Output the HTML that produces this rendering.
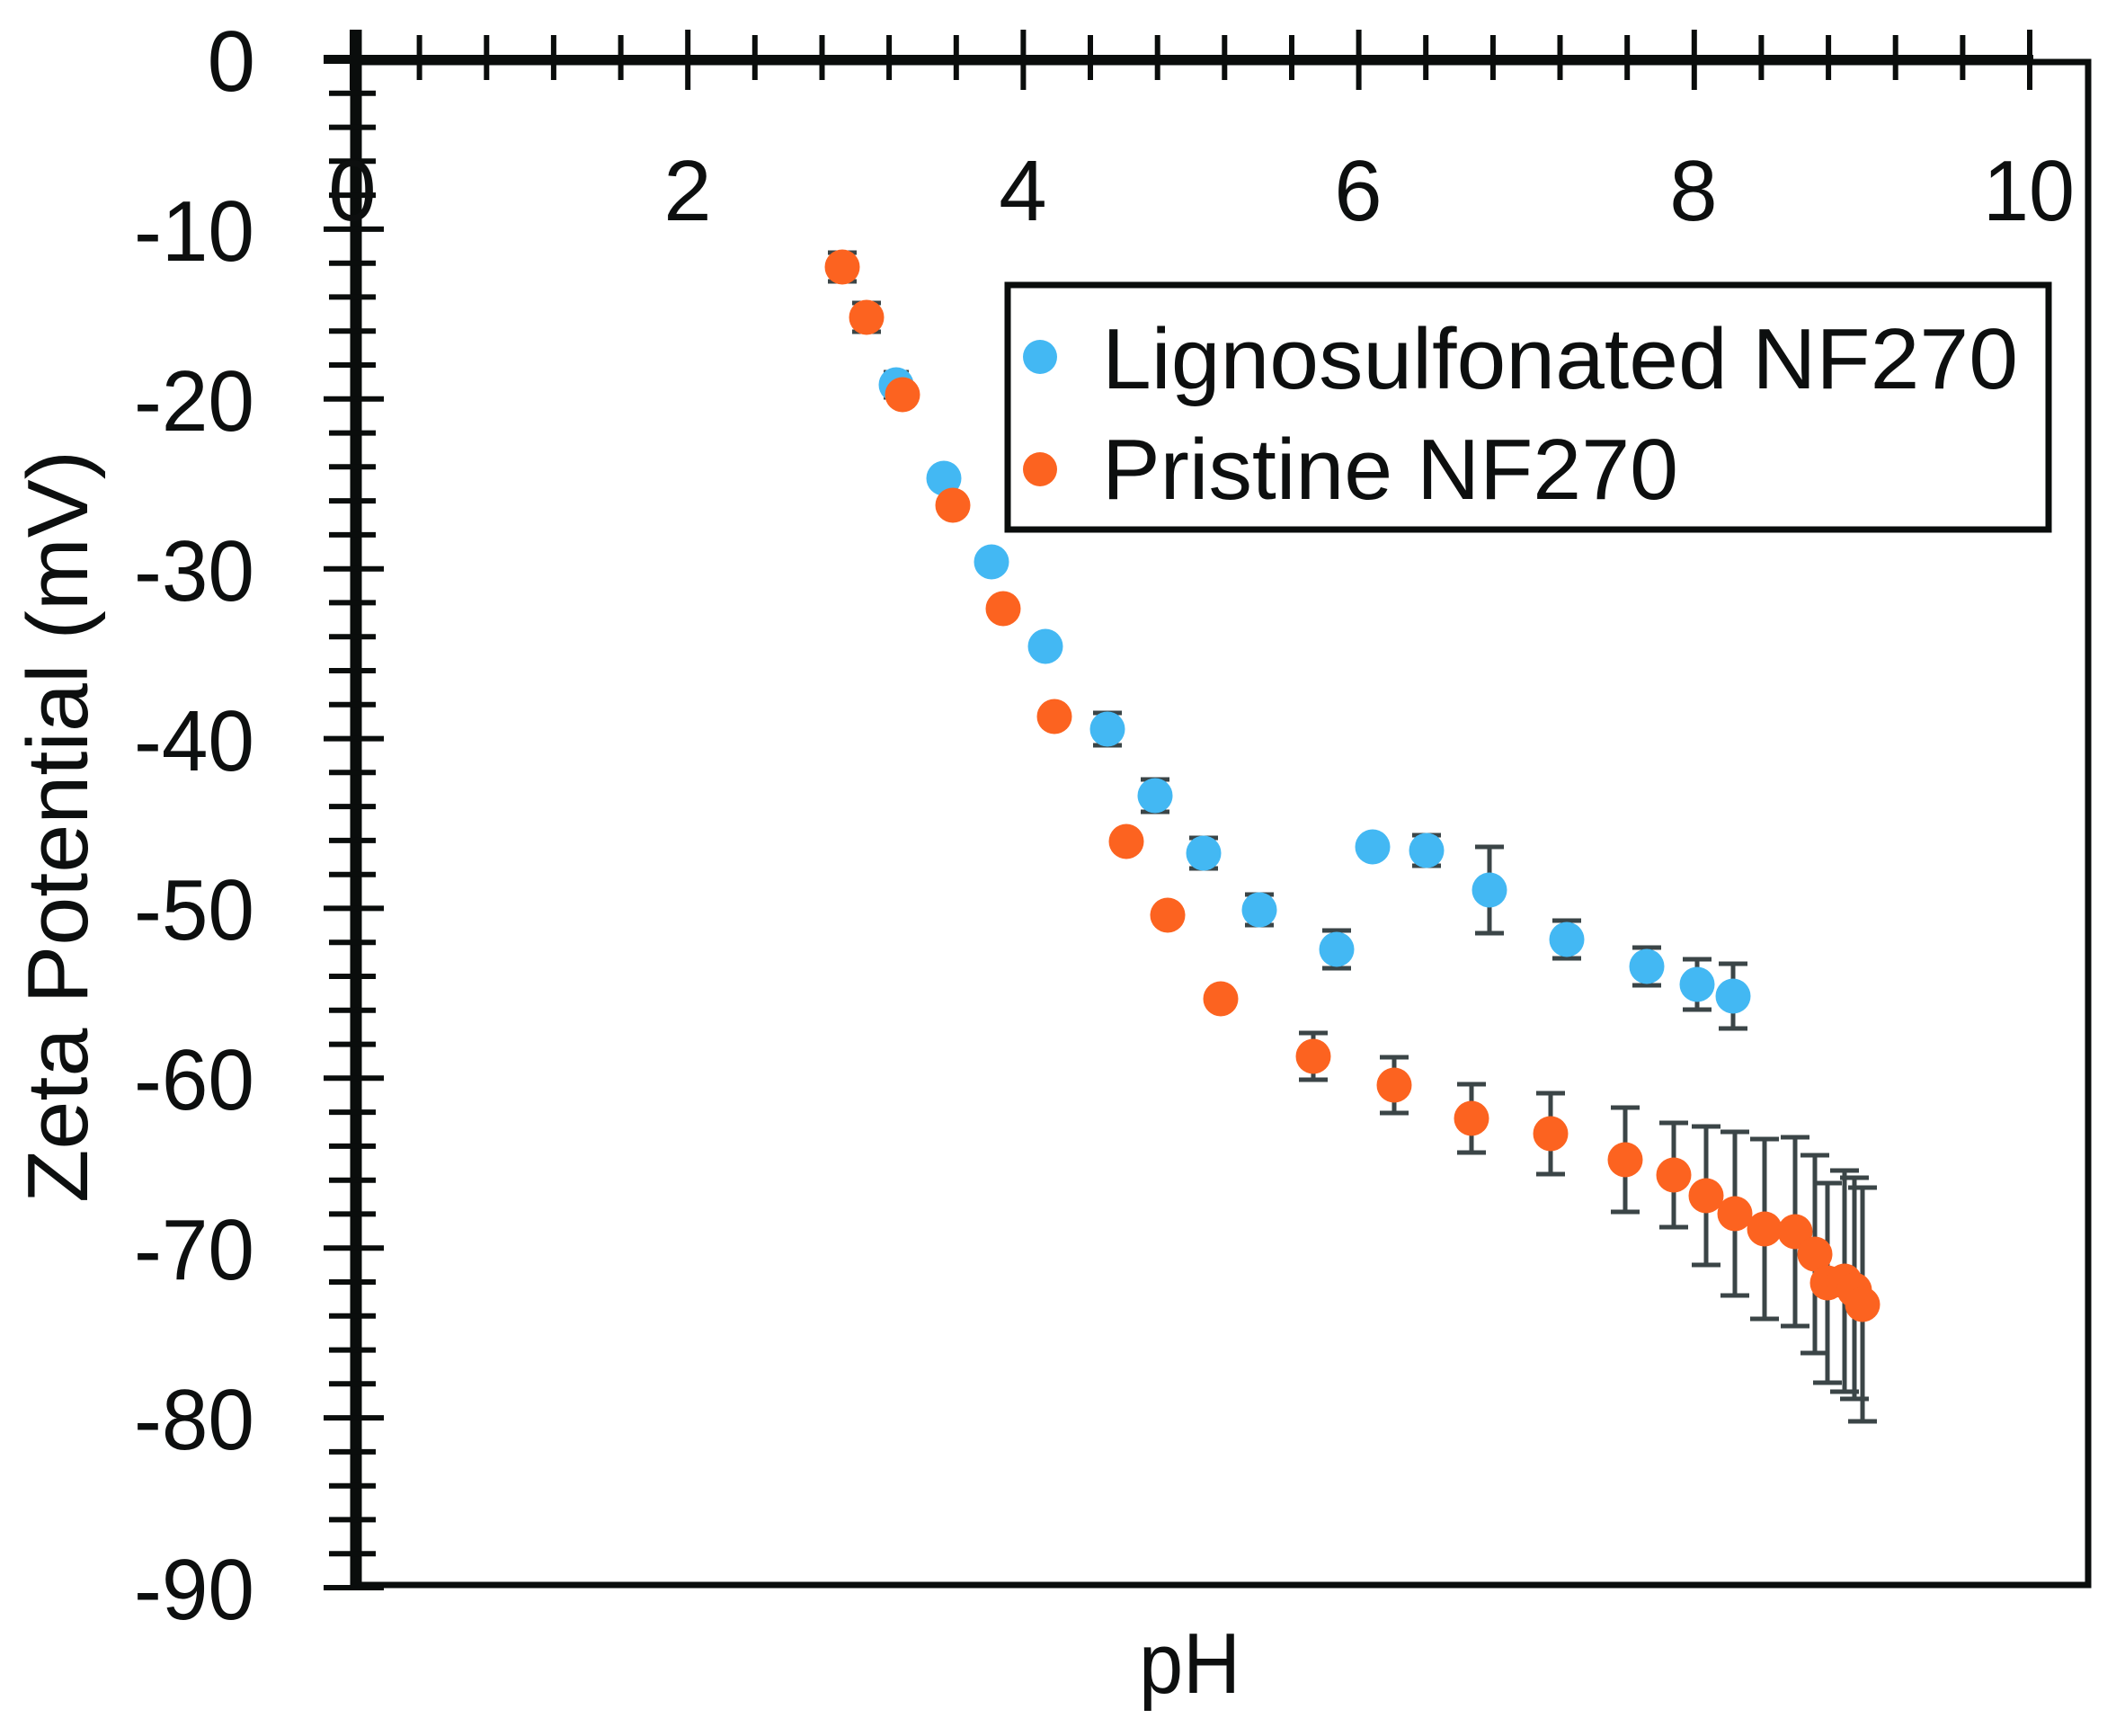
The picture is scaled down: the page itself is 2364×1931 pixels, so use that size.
<!DOCTYPE html>
<html><head><meta charset="utf-8">
<style>
html,body{margin:0;padding:0;background:#fff;}
svg{display:block;}
text{font-family:"Liberation Sans",Arial,sans-serif;fill:#0d0f0f;}
</style></head>
<body>
<svg width="2364" height="1931" viewBox="0 0 2364 1931" xmlns="http://www.w3.org/2000/svg">
<rect width="2364" height="1931" fill="#fff"/>
<!-- frame -->
<rect x="397" y="69" width="1926" height="1694" fill="none" stroke="#0a0d0c" stroke-width="7"/>
<!-- x axis (top) -->
<line x1="360" y1="66" x2="2262" y2="66" stroke="#0a0d0c" stroke-width="10"/>
<!-- y axis -->
<line x1="396" y1="33" x2="396" y2="1768" stroke="#0a0d0c" stroke-width="13"/>
<!-- x ticks -->
<path stroke="#0a0d0c" stroke-width="6" fill="none" d="
M392 33v67 M765.2 33v67 M1138.4 33v67 M1511.6 33v67 M1884.8 33v67 M2258 33v67
M466.6 39v50 M541.3 39v50 M615.9 39v50 M690.6 39v50
M839.8 39v50 M914.5 39v50 M989.1 39v50 M1063.8 39v50
M1213 39v50 M1287.7 39v50 M1362.3 39v50 M1437 39v50
M1586.2 39v50 M1660.9 39v50 M1735.5 39v50 M1810.2 39v50
M1959.4 39v50 M2034.1 39v50 M2108.7 39v50 M2183.4 39v50"/>
<!-- y ticks -->
<path stroke="#0a0d0c" stroke-width="6" fill="none" d="
M360 66h67 M360 254.9h67 M360 443.8h67 M360 632.7h67 M360 821.6h67 M360 1010.4h67 M360 1199.3h67 M360 1388.2h67 M360 1577.1h67 M360 1766h67
M366 103.8h52 M366 141.6h52 M366 179.3h52 M366 217.1h52
M366 292.7h52 M366 330.4h52 M366 368.2h52 M366 406h52
M366 481.6h52 M366 519.3h52 M366 557.1h52 M366 594.9h52
M366 670.4h52 M366 708.2h52 M366 746h52 M366 783.8h52
M366 859.3h52 M366 897.1h52 M366 934.9h52 M366 972.7h52
M366 1048.2h52 M366 1086h52 M366 1123.8h52 M366 1161.6h52
M366 1237.1h52 M366 1274.9h52 M366 1312.7h52 M366 1350.4h52
M366 1426h52 M366 1463.8h52 M366 1501.6h52 M366 1539.3h52
M366 1614.9h52 M366 1652.7h52 M366 1690.4h52 M366 1728.2h52"/>
<!-- y tick labels -->
<g font-size="96" text-anchor="end">
<text x="284" y="101">0</text>
<text x="283" y="290" textLength="134" lengthAdjust="spacingAndGlyphs">-10</text>
<text x="283" y="479" textLength="134" lengthAdjust="spacingAndGlyphs">-20</text>
<text x="283" y="668" textLength="134" lengthAdjust="spacingAndGlyphs">-30</text>
<text x="283" y="857" textLength="134" lengthAdjust="spacingAndGlyphs">-40</text>
<text x="283" y="1045" textLength="134" lengthAdjust="spacingAndGlyphs">-50</text>
<text x="283" y="1234" textLength="134" lengthAdjust="spacingAndGlyphs">-60</text>
<text x="283" y="1423" textLength="134" lengthAdjust="spacingAndGlyphs">-70</text>
<text x="283" y="1612" textLength="134" lengthAdjust="spacingAndGlyphs">-80</text>
<text x="283" y="1801" textLength="134" lengthAdjust="spacingAndGlyphs">-90</text>
</g>
<!-- x tick labels -->
<g font-size="96" text-anchor="middle">
<text x="392" y="245">0</text>
<text x="765" y="245">2</text>
<text x="1138" y="245">4</text>
<text x="1511" y="245">6</text>
<text x="1884" y="245">8</text>
<text x="2257" y="245" textLength="102" lengthAdjust="spacingAndGlyphs">10</text>
</g>
<!-- axis titles -->
<text x="1267" y="1883" font-size="96" textLength="113" lengthAdjust="spacingAndGlyphs">pH</text>
<text transform="translate(97,1338) rotate(-90)" font-size="96" textLength="837" lengthAdjust="spacingAndGlyphs">Zeta Potential (mV)</text>

<!-- error bars -->
<g stroke="#3b4547" stroke-width="5" fill="none">
<!-- blue -->
<path d="M997 414v28 M983 414h28 M983 442h28"/>
<path d="M1232 793v36 M1216 793h32 M1216 829h32"/>
<path d="M1285 867v36 M1269 867h32 M1269 903h32"/>
<path d="M1339 932v34 M1323 932h32 M1323 966h32"/>
<path d="M1401 995v34 M1385 995h32 M1385 1029h32"/>
<path d="M1487 1035v42 M1471 1035h32 M1471 1077h32"/>
<path d="M1587 929v34 M1571 929h32 M1571 963h32"/>
<path d="M1657 942v96 M1641 942h32 M1641 1038h32"/>
<path d="M1743 1024v42 M1727 1024h32 M1727 1066h32"/>
<path d="M1832 1054v42 M1816 1054h32 M1816 1096h32"/>
<path d="M1888 1067v56 M1872 1067h32 M1872 1123h32"/>
<path d="M1928 1072v72 M1912 1072h32 M1912 1144h32"/>
<!-- orange -->
<path d="M937 281v32 M921 281h32 M921 313h32"/>
<path d="M964 337v32 M948 337h32 M948 369h32"/>
<path d="M1461 1149v52 M1445 1149h32 M1445 1201h32"/>
<path d="M1551 1176v62 M1535 1176h32 M1535 1238h32"/>
<path d="M1637 1206v76 M1621 1206h32 M1621 1282h32"/>
<path d="M1725 1216v90 M1709 1216h32 M1709 1306h32"/>
<path d="M1808 1232v116 M1792 1232h32 M1792 1348h32"/>
<path d="M1862 1249v116 M1846 1249h32 M1846 1365h32"/>
<path d="M1898 1253v154 M1882 1253h32 M1882 1407h32"/>
<path d="M1930 1259v182 M1914 1259h32 M1914 1441h32"/>
<path d="M1963 1267v200 M1947 1267h32 M1947 1467h32"/>
<path d="M1997 1265v210 M1981 1265h32 M1981 1475h32"/>
<path d="M2019 1285v220 M2003 1285h32 M2003 1505h32"/>
<path d="M2033 1316v222 M2017 1316h32 M2017 1538h32"/>
<path d="M2052 1302v246 M2036 1302h32 M2036 1548h32"/>
<path d="M2063 1310v246 M2047 1310h32 M2047 1556h32"/>
<path d="M2072 1321v260 M2056 1321h32 M2056 1581h32"/>
</g>

<!-- blue markers -->
<g fill="#43b8f3">
<circle cx="997" cy="428" r="19.5"/>
<circle cx="1050" cy="532" r="19.5"/>
<circle cx="1103" cy="625" r="19.5"/>
<circle cx="1163" cy="719" r="19.5"/>
<circle cx="1232" cy="811" r="19.5"/>
<circle cx="1285" cy="885" r="19.5"/>
<circle cx="1339" cy="949" r="19.5"/>
<circle cx="1401" cy="1012" r="19.5"/>
<circle cx="1487" cy="1056" r="19.5"/>
<circle cx="1527" cy="942" r="19.5"/>
<circle cx="1587" cy="946" r="19.5"/>
<circle cx="1657" cy="990" r="19.5"/>
<circle cx="1743" cy="1045" r="19.5"/>
<circle cx="1832" cy="1075" r="19.5"/>
<circle cx="1888" cy="1095" r="19.5"/>
<circle cx="1928" cy="1108" r="19.5"/>
</g>
<!-- orange markers -->
<g fill="#fc6320">
<circle cx="937" cy="297" r="19.5"/>
<circle cx="964" cy="353" r="19.5"/>
<circle cx="1004" cy="439" r="19.5"/>
<circle cx="1060" cy="562" r="19.5"/>
<circle cx="1116" cy="677" r="19.5"/>
<circle cx="1173" cy="797" r="19.5"/>
<circle cx="1253" cy="936" r="19.5"/>
<circle cx="1299" cy="1018" r="19.5"/>
<circle cx="1358" cy="1111" r="19.5"/>
<circle cx="1461" cy="1175" r="19.5"/>
<circle cx="1551" cy="1207" r="19.5"/>
<circle cx="1637" cy="1244" r="19.5"/>
<circle cx="1725" cy="1261" r="19.5"/>
<circle cx="1808" cy="1290" r="19.5"/>
<circle cx="1862" cy="1307" r="19.5"/>
<circle cx="1898" cy="1330" r="19.5"/>
<circle cx="1930" cy="1350" r="19.5"/>
<circle cx="1963" cy="1367" r="19.5"/>
<circle cx="1997" cy="1370" r="19.5"/>
<circle cx="2019" cy="1395" r="19.5"/>
<circle cx="2033" cy="1427" r="19.5"/>
<circle cx="2052" cy="1425" r="19.5"/>
<circle cx="2063" cy="1435" r="19.5"/>
<circle cx="2072" cy="1451" r="19.5"/>
</g>

<!-- legend -->
<rect x="1121" y="317" width="1158" height="272" fill="#fff" stroke="#0a0d0c" stroke-width="7"/>
<circle cx="1157" cy="397" r="19" fill="#43b8f3"/>
<circle cx="1157" cy="522" r="19" fill="#fc6320"/>
<text x="1226" y="432" font-size="96" textLength="1019" lengthAdjust="spacingAndGlyphs">Lignosulfonated NF270</text>
<text x="1226" y="555" font-size="96" textLength="641" lengthAdjust="spacingAndGlyphs">Pristine NF270</text>
</svg>
</body></html>
